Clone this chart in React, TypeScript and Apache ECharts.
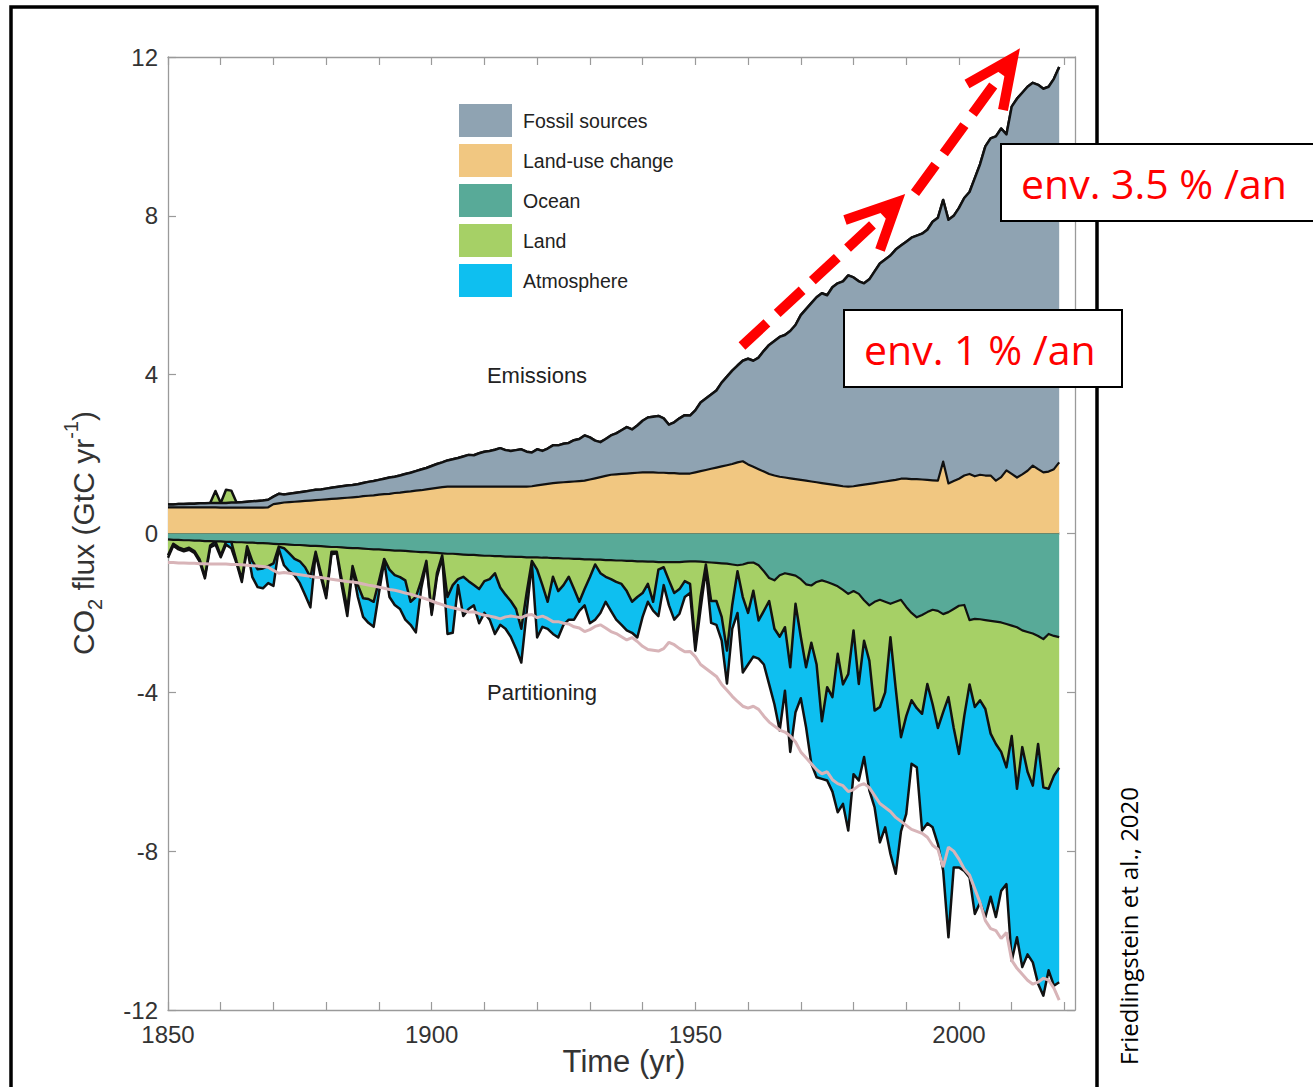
import React, { useEffect, useRef } from 'react';
import * as echarts from 'echarts';

// ---- data (GtC / yr), one value per year from 1850 to 2019 ----
const START_YEAR = 1850;
const AXIS_END_YEAR = 2022;

const fossil = [
  0.07, 0.07, 0.08, 0.08, 0.09, 0.09, 0.10, 0.10, 0.11, 0.11,
  0.12, 0.12, 0.13, 0.13, 0.14, 0.15, 0.16, 0.17, 0.18, 0.19,
  0.19, 0.24, 0.20, 0.21, 0.22, 0.23, 0.24, 0.25, 0.26, 0.26,
  0.27, 0.28, 0.29, 0.30, 0.31, 0.31, 0.32, 0.33, 0.35, 0.36,
  0.37, 0.39, 0.41, 0.41, 0.43, 0.45, 0.47, 0.49, 0.52, 0.54,
  0.57, 0.60, 0.62, 0.66, 0.69, 0.72, 0.76, 0.80, 0.79, 0.84,
  0.88, 0.90, 0.93, 0.97, 0.92, 0.90, 0.92, 0.94, 0.88, 0.85,
  0.91, 0.85, 0.89, 0.95, 0.94, 0.97, 0.98, 1.04, 1.06, 1.14,
  1.06, 0.95, 0.88, 0.93, 0.99, 1.03, 1.10, 1.17, 1.10, 1.19,
  1.30, 1.38, 1.40, 1.43, 1.37, 1.22, 1.28, 1.39, 1.47, 1.46,
  1.56, 1.73, 1.80, 1.87, 1.94, 2.11, 2.23, 2.35, 2.44, 2.53,
  2.66, 2.67, 2.81, 3.04, 3.25, 3.39, 3.52, 3.59, 3.71, 3.88,
  4.15, 4.32, 4.49, 4.66, 4.78, 4.75, 4.97, 5.09, 5.16, 5.32,
  5.26, 5.14, 5.07, 5.15, 5.33, 5.51, 5.59, 5.67, 5.80, 5.87,
  5.97, 6.08, 6.13, 6.19, 6.30, 6.51, 6.62, 6.59, 6.64, 6.68,
  6.82, 6.99, 7.10, 7.51, 7.82, 8.29, 8.49, 8.67, 8.78, 8.46,
  9.25, 9.54, 9.61, 9.67, 9.64, 9.68, 9.66, 9.69, 9.83, 9.96,
];

const landUse = [
  0.66, 0.66, 0.66, 0.66, 0.66, 0.66, 0.66, 0.66, 0.66, 0.66,
  0.65, 0.65, 0.65, 0.65, 0.65, 0.65, 0.65, 0.65, 0.65, 0.66,
  0.74, 0.76, 0.78, 0.79, 0.80, 0.81, 0.82, 0.83, 0.84, 0.85,
  0.86, 0.87, 0.88, 0.89, 0.90, 0.91, 0.92, 0.94, 0.95, 0.96,
  0.98, 0.99, 1.00, 1.02, 1.03, 1.05, 1.06, 1.08, 1.09, 1.11,
  1.13, 1.15, 1.17, 1.18, 1.18, 1.18, 1.18, 1.18, 1.18, 1.18,
  1.18, 1.18, 1.18, 1.18, 1.18, 1.18, 1.18, 1.18, 1.18, 1.19,
  1.21, 1.23, 1.25, 1.27, 1.28, 1.29, 1.30, 1.31, 1.32, 1.33,
  1.36, 1.39, 1.42, 1.45, 1.48, 1.49, 1.50, 1.51, 1.52, 1.53,
  1.54, 1.54, 1.54, 1.53, 1.53, 1.52, 1.52, 1.51, 1.51, 1.51,
  1.54, 1.57, 1.60, 1.63, 1.66, 1.69, 1.72, 1.75, 1.79, 1.82,
  1.74, 1.68, 1.62, 1.56, 1.50, 1.46, 1.43, 1.41, 1.39, 1.37,
  1.35, 1.33, 1.31, 1.29, 1.27, 1.25, 1.23, 1.21, 1.19, 1.18,
  1.19, 1.21, 1.23, 1.25, 1.27, 1.29, 1.31, 1.33, 1.35, 1.38,
  1.38, 1.37, 1.37, 1.36, 1.35, 1.34, 1.33, 1.81, 1.26, 1.32,
  1.38, 1.46, 1.50, 1.44, 1.48, 1.46, 1.46, 1.33, 1.42, 1.59,
  1.50, 1.41, 1.49, 1.58, 1.71, 1.62, 1.54, 1.56, 1.62, 1.79,
];

const ocean = [
  -0.15, -0.16, -0.16, -0.17, -0.17, -0.18, -0.18, -0.19, -0.19, -0.20,
  -0.20, -0.21, -0.21, -0.22, -0.22, -0.23, -0.23, -0.24, -0.24, -0.25,
  -0.26, -0.27, -0.27, -0.28, -0.29, -0.29, -0.30, -0.31, -0.31, -0.32,
  -0.33, -0.34, -0.34, -0.35, -0.36, -0.37, -0.37, -0.38, -0.39, -0.40,
  -0.40, -0.41, -0.42, -0.43, -0.43, -0.44, -0.45, -0.46, -0.47, -0.47,
  -0.48, -0.49, -0.50, -0.51, -0.51, -0.52, -0.53, -0.54, -0.54, -0.55,
  -0.56, -0.56, -0.57, -0.57, -0.58, -0.58, -0.59, -0.59, -0.60, -0.60,
  -0.60, -0.61, -0.61, -0.62, -0.62, -0.63, -0.63, -0.64, -0.64, -0.65,
  -0.65, -0.66, -0.66, -0.67, -0.67, -0.68, -0.68, -0.69, -0.69, -0.70,
  -0.70, -0.71, -0.71, -0.72, -0.72, -0.72, -0.72, -0.72, -0.71, -0.70,
  -0.70, -0.71, -0.72, -0.73, -0.74, -0.75, -0.76, -0.78, -0.80, -0.78,
  -0.74, -0.73, -0.80, -0.95, -1.12, -1.18, -1.05, -1.00, -1.03, -1.06,
  -1.15, -1.28, -1.31, -1.22, -1.18, -1.22, -1.27, -1.33, -1.42, -1.52,
  -1.45, -1.52, -1.68, -1.81, -1.72, -1.67, -1.72, -1.77, -1.72, -1.67,
  -1.85, -2.00, -2.11, -2.05, -1.98, -1.92, -1.95, -2.03, -1.98, -1.90,
  -1.82, -1.80, -2.18, -2.15, -2.16, -2.18, -2.20, -2.22, -2.24, -2.28,
  -2.32, -2.36, -2.44, -2.48, -2.52, -2.58, -2.66, -2.53, -2.58, -2.61,
];

// land: negative = sink, positive = source (drawn on top of emissions)
const land = [
  -0.40, -0.10, -0.19, -0.23, -0.19, -0.26, -0.47, -0.89, -0.11, 0.30,
  -0.35, 0.33, 0.30, -0.48, -0.93, -0.09, -0.47, -0.66, -0.64, -0.57,
  -0.49, -0.06, -0.10, -0.22, -0.35, -0.41, -0.55, -0.79, -0.15, -0.68,
  -1.22, -0.12, -0.12, -0.85, -1.54, -0.45, -0.93, -1.25, -1.26, -1.32,
  -0.80, -0.23, -0.49, -0.62, -0.67, -0.74, -1.27, -1.14, -0.73, -0.22,
  -1.51, -0.51, -0.05, -1.09, -0.79, -0.63, -0.56, -0.66, -0.76, -0.85,
  -0.64, -0.59, -0.43, -0.79, -0.96, -1.12, -1.31, -1.81, -0.90, -0.09,
  -0.31, -0.69, -1.11, -0.47, -0.83, -0.67, -0.46, -0.76, -1.08, -0.75,
  -0.45, -0.12, -0.34, -0.42, -0.48, -0.54, -0.59, -0.76, -1.03, -0.90,
  -0.80, -0.56, -1.01, -0.19, -0.13, -0.46, -0.78, -0.68, -0.49, -0.57,
  -2.10, -0.89, -0.06, -0.97, -0.96, -1.35, -2.19, -1.02, -0.15, -0.82,
  -1.26, -0.71, -1.39, -1.00, -0.58, -1.22, -1.55, -1.36, -2.34, -0.71,
  -1.45, -2.09, -1.44, -2.08, -3.55, -2.65, -2.85, -1.70, -2.38, -2.02,
  -0.99, -2.27, -1.02, -1.39, -2.74, -2.70, -2.28, -0.84, -2.18, -3.46,
  -2.75, -2.20, -2.29, -2.49, -1.81, -2.38, -2.95, -2.47, -2.14, -3.00,
  -3.73, -2.80, -1.62, -2.22, -2.04, -2.24, -2.84, -3.08, -3.26, -3.61,
  -2.78, -4.07, -2.94, -3.52, -3.83, -2.72, -3.73, -3.90, -3.52, -3.29,
];

const atmosphere = [
  -0.06, -0.05, -0.05, -0.05, -0.05, -0.05, -0.06, -0.05, -0.05, -0.08,
  -0.05, -0.07, -0.16, -0.05, -0.07, -0.04, -0.40, -0.45, -0.50, -0.43,
  -0.57, -0.05, -0.43, -0.45, -0.41, -0.55, -0.70, -0.76, -0.04, -0.10,
  -0.08, -0.06, -0.04, -0.15, -0.18, -0.06, -0.30, -0.47, -0.60, -0.63,
  -0.30, -0.06, -0.69, -0.75, -0.80, -0.99, -0.58, -0.89, -0.20, -0.06,
  -0.06, -0.10, -0.05, -0.93, -1.20, -0.15, -0.99, -0.70, -0.51, -0.86,
  -0.80, -1.02, -1.53, -0.94, -0.86, -0.90, -1.00, -0.85, -0.50, -0.06,
  -1.71, -1.05, -0.68, -1.44, -1.17, -1.00, -1.08, -0.77, -0.23, -0.41,
  -1.16, -1.39, -1.00, -0.63, -0.80, -0.95, -1.03, -0.99, -0.78, -1.02,
  -0.60, -0.45, -0.22, -1.17, -0.45, -0.63, -0.67, -0.62, -0.40, -0.23,
  -0.15, -0.30, -0.12, -0.55, -0.60, -0.60, -0.83, -0.60, -1.05, -1.90,
  -1.30, -1.66, -0.96, -1.35, -2.10, -1.90, -2.36, -1.60, -2.13, -2.73,
  -1.55, -1.51, -3.05, -2.84, -1.45, -2.35, -2.38, -3.99, -3.01, -3.94,
  -3.62, -2.43, -2.93, -3.27, -2.44, -3.41, -3.40, -5.46, -4.67, -2.37,
  -2.46, -1.60, -1.49, -2.94, -3.51, -3.10, -2.92, -3.99, -6.05, -3.51,
  -2.86, -3.90, -4.86, -5.21, -5.10, -5.24, -4.11, -4.36, -3.50, -2.94,
  -5.66, -3.74, -5.54, -4.60, -4.45, -6.04, -5.25, -4.57, -5.29, -5.40,
];

const yTicks = [-12, -8, -4, 0, 4, 8, 12];
const xLabelYears = ['1850', '1900', '1950', '2000'];
const legendNames = ['Fossil sources', 'Land-use change', 'Ocean', 'Land', 'Atmosphere'];

// ---- styling ----
const COLORS = {
  fossil: '#8fa3b2',
  luc: '#f1c781',
  ocean: '#58aa98',
  land: '#a6d066',
  atm: '#0ebff0',
  mirror: '#d8b4b8',
};
const AXIS = '#9a9a9a';
const FONT = '"Liberation Sans", Arial, Helvetica, sans-serif';
const RED_FONT = '"Open Sans", "Noto Sans", sans-serif';

// category axis: one slot per year, extending a little past the data like the original
const axisYears: string[] = [];
for (let y = START_YEAR; y <= AXIS_END_YEAR; y++) axisYears.push(String(y));
const lastDataYear = String(START_YEAR + fossil.length - 1);

const landSource = land.map((v) => (v > 0 ? v : 0));
const landSink = land.map((v) => (v < 0 ? v : 0));
const emissionsMirror = fossil.map((f, i) => -(f + landUse[i]));

function buildOption(): any {
  const lineBase = {
    type: 'line',
    showSymbol: false,
    symbol: 'none',
    smooth: false,
    silent: true,
    emphasis: { disabled: true },
    lineStyle: { color: '#111', width: 2.5, join: 'round' },
  };
  const legendColor: Record<string, string> = {
    'Fossil sources': COLORS.fossil,
    'Land-use change': COLORS.luc,
    Ocean: COLORS.ocean,
    Land: COLORS.land,
    Atmosphere: COLORS.atm,
  };
  const decadeTick = (_i: number, v: string) => Number(v) % 10 === 0;
  const xAxisBase = {
    type: 'category',
    data: axisYears,
    boundaryGap: false,
    axisLine: { show: true, onZero: false, lineStyle: { color: AXIS, width: 1.3 } },
    axisTick: { show: true, inside: true, length: 8, interval: decadeTick, lineStyle: { color: AXIS, width: 1.2 } },
    splitLine: { show: false },
  };
  const yAxisBase = {
    type: 'value',
    min: yTicks[0],
    max: yTicks[yTicks.length - 1],
    interval: 4,
    axisLine: { show: true, onZero: false, lineStyle: { color: AXIS, width: 1.3 } },
    axisTick: { show: true, inside: true, length: 8, lineStyle: { color: AXIS, width: 1.2 } },
    splitLine: { show: false },
  };

  return {
    animation: false,
    backgroundColor: '#ffffff',
    grid: { left: 168, right: 238, top: 57, bottom: 77, containLabel: false },
    legend: {
      orient: 'vertical',
      left: 459,
      top: 104,
      padding: 0,
      itemWidth: 53,
      itemHeight: 33,
      itemGap: 7,
      selectedMode: false,
      textStyle: { fontSize: 19.5, color: '#222', fontFamily: FONT, padding: [0, 0, 0, 6] },
      data: legendNames.map((n) => ({
        name: n,
        icon: 'rect',
        itemStyle: { color: legendColor[n], borderWidth: 0 },
      })),
    },
    xAxis: [
      {
        ...xAxisBase,
        position: 'bottom',
        axisLabel: {
          fontSize: 24,
          color: '#333',
          fontFamily: FONT,
          margin: 12,
          interval: (_i: number, v: string) => xLabelYears.indexOf(v) >= 0,
        },
      },
      { ...xAxisBase, position: 'top', axisLabel: { show: false } },
    ],
    yAxis: [
      {
        ...yAxisBase,
        position: 'left',
        axisLabel: { fontSize: 24, color: '#333', fontFamily: FONT, margin: 10 },
      },
      { ...yAxisBase, position: 'right', axisLabel: { show: false } },
    ],
    series: [
      {
        ...lineBase,
        name: 'Land-use change',
        stack: 'emissions',
        z: 6,
        lineStyle: { color: '#111', width: 2.2, join: 'round' },
        itemStyle: { color: COLORS.luc },
        areaStyle: { color: COLORS.luc, opacity: 1 },
        data: landUse,
      },
      {
        ...lineBase,
        name: 'Fossil sources',
        stack: 'emissions',
        z: 5,
        itemStyle: { color: COLORS.fossil },
        areaStyle: { color: COLORS.fossil, opacity: 1 },
        data: fossil,
      },
      {
        ...lineBase,
        name: 'Land',
        stack: 'emissions',
        z: 4,
        itemStyle: { color: COLORS.land },
        areaStyle: { color: COLORS.land, opacity: 1 },
        data: landSource,
      },
      {
        ...lineBase,
        name: 'Ocean',
        stack: 'partitioning',
        z: 6,
        lineStyle: { color: '#111', width: 2.2, join: 'round' },
        itemStyle: { color: COLORS.ocean },
        areaStyle: { color: COLORS.ocean, opacity: 1 },
        data: ocean,
      },
      {
        ...lineBase,
        name: 'Land',
        stack: 'partitioning',
        z: 5,
        itemStyle: { color: COLORS.land },
        areaStyle: { color: COLORS.land, opacity: 1 },
        data: landSink,
      },
      {
        ...lineBase,
        name: 'Atmosphere',
        stack: 'partitioning',
        z: 4,
        itemStyle: { color: COLORS.atm },
        areaStyle: { color: COLORS.atm, opacity: 1 },
        data: atmosphere,
      },
      {
        ...lineBase,
        name: 'Total emissions (mirrored)',
        z: 7,
        itemStyle: { color: COLORS.mirror },
        lineStyle: { color: COLORS.mirror, width: 3 },
        data: emissionsMirror,
        markLine: {
          silent: true,
          symbol: ['none', 'none'],
          label: { show: false },
          lineStyle: { color: '#000', width: 2.5, type: 'solid' },
          data: [[{ coord: [String(START_YEAR), 0] }, { coord: [lastDataYear, 0] }]],
        },
      },
    ],
    graphic: {
      elements: [
        {
          type: 'text',
          x: 537,
          y: 375,
          z: 20,
          style: {
            text: 'Emissions',
            font: `22px ${FONT}`,
            fill: '#222',
            align: 'center',
            verticalAlign: 'middle',
            textAlign: 'center',
            textVerticalAlign: 'middle',
          },
        },
        {
          type: 'text',
          x: 542,
          y: 692,
          z: 20,
          style: {
            text: 'Partitioning',
            font: `22px ${FONT}`,
            fill: '#222',
            align: 'center',
            verticalAlign: 'middle',
            textAlign: 'center',
            textVerticalAlign: 'middle',
          },
        },
        {
          type: 'text',
          x: 624,
          y: 1061,
          z: 20,
          style: {
            text: 'Time (yr)',
            font: `31px ${FONT}`,
            fill: '#333',
            align: 'center',
            verticalAlign: 'middle',
            textAlign: 'center',
            textVerticalAlign: 'middle',
          },
        },
        {
          type: 'text',
          x: 83,
          y: 533,
          rotation: Math.PI / 2,
          z: 20,
          style: {
            text: '{n|CO}{s|2}{n| flux (GtC yr}{p|-1}{n|)}',
            fill: '#333',
            align: 'center',
            verticalAlign: 'middle',
            textAlign: 'center',
            textVerticalAlign: 'middle',
            rich: {
              n: { fontSize: 30, fontFamily: FONT, fill: '#333', color: '#333', lineHeight: 44, verticalAlign: 'middle' },
              s: { fontSize: 20, fontFamily: FONT, fill: '#333', color: '#333', lineHeight: 44, verticalAlign: 'bottom' },
              p: { fontSize: 20, fontFamily: FONT, fill: '#333', color: '#333', lineHeight: 44, verticalAlign: 'top' },
            },
          },
        },
        // outer frame
        {
          type: 'rect',
          z: 30,
          shape: { x: 11, y: 7, width: 1086, height: 1200 },
          style: { fill: 'none', stroke: '#000', lineWidth: 3.5 },
        },
        {
          type: 'text',
          x: 1128,
          y: 926,
          rotation: Math.PI / 2,
          z: 30,
          style: {
            text: 'Friedlingstein et al., 2020',
            font: `24px ${RED_FONT}`,
            fill: '#000',
            align: 'center',
            verticalAlign: 'middle',
            textAlign: 'center',
            textVerticalAlign: 'middle',
          },
        },
        // red dashed arrows
        {
          type: 'line',
          z: 40,
          shape: { x1: 742, y1: 346, x2: 895, y2: 204 },
          style: { stroke: '#ff0000', lineWidth: 10, lineDash: [34, 14] },
        },
        {
          type: 'polyline',
          z: 40,
          shape: { points: [[845, 220], [897, 202], [880, 250]] },
          style: { stroke: '#ff0000', lineWidth: 10, fill: null, lineJoin: 'miter' },
        },
        {
          type: 'line',
          z: 40,
          shape: { x1: 915, y1: 193, x2: 1011, y2: 61 },
          style: { stroke: '#ff0000', lineWidth: 10, lineDash: [35, 14] },
        },
        {
          type: 'polyline',
          z: 40,
          shape: { points: [[967, 84], [1013, 58], [1003, 110]] },
          style: { stroke: '#ff0000', lineWidth: 10, fill: null, lineJoin: 'miter' },
        },
        // annotation boxes
        {
          type: 'rect',
          z: 50,
          shape: { x: 1001, y: 144, width: 330, height: 77 },
          style: { fill: '#fff', stroke: '#000', lineWidth: 2 },
        },
        {
          type: 'text',
          x: 1021,
          y: 183,
          z: 51,
          style: {
            text: 'env. 3.5 % /an',
            font: `41px ${RED_FONT}`,
            fill: '#ff0000',
            align: 'left',
            verticalAlign: 'middle',
            textAlign: 'left',
            textVerticalAlign: 'middle',
          },
        },
        {
          type: 'rect',
          z: 50,
          shape: { x: 844, y: 310, width: 278, height: 77 },
          style: { fill: '#fff', stroke: '#000', lineWidth: 2 },
        },
        {
          type: 'text',
          x: 864,
          y: 349,
          z: 51,
          style: {
            text: 'env. 1 % /an',
            font: `41px ${RED_FONT}`,
            fill: '#ff0000',
            align: 'left',
            verticalAlign: 'middle',
            textAlign: 'left',
            textVerticalAlign: 'middle',
          },
        },
      ],
    },
  };
}

export default function App() {
  const ref = useRef<HTMLDivElement>(null);
  useEffect(() => {
    if (!ref.current) return;
    const chart = echarts.init(ref.current, undefined, { renderer: 'svg', width: 1313, height: 1087 });
    chart.setOption(buildOption());
    return () => {
      chart.dispose();
    };
  }, []);
  return (
    <div
      ref={ref}
      style={{ position: 'fixed', left: 0, top: 0, width: 1313, height: 1087, background: '#fff' }}
    />
  );
}
